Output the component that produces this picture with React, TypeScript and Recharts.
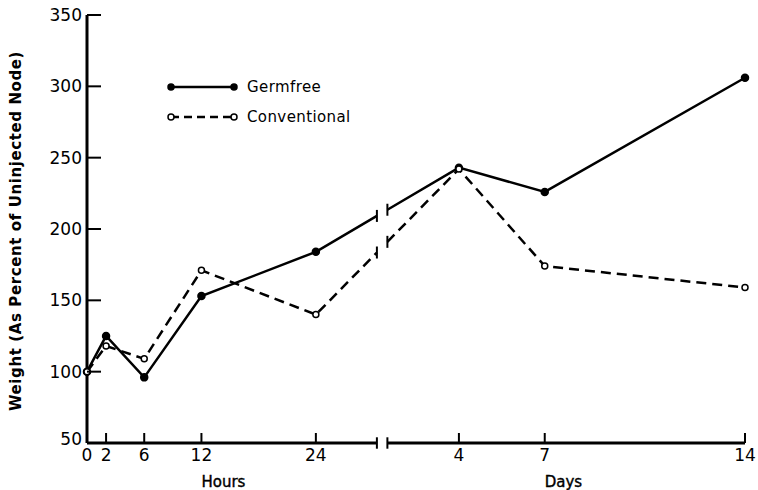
import React from 'react';
import {
    LineChart,
    Line,
    XAxis,
    YAxis,
    Legend,
    ReferenceLine
} from 'recharts';

const hours = [0, 2, 6, 12, 24];
const days = [4, 7, 14];
const germfree = [100, 125, 96, 153, 184, 243, 226, 306];
const conventional = [100, 118, 109, 171, 140, 242, 174, 159];
const yTicks = [50, 100, 150, 200, 250, 300, 350];
const seriesOrder = ['germfree', 'conventional'];
const groupLabels = [
    { label: 'Hours', anchor: 12, unit: 'h' },
    { label: 'Days', anchor: 7, unit: 'd' }
];

// one shared x scale: hours map 1:1, days get their own (compressed) stretch after the break
const dayPos = (d: number) => 27 + 3 * d;
const breakLeft = 30.4;
const breakRight = 31.5;

const FONT = '"DejaVu Sans", sans-serif';

const points = [
    ...hours.map((h) => ({ x: h, label: String(h), unit: 'h' })),
    ...days.map((d) => ({ x: dayPos(d), label: String(d), unit: 'd' }))
];

const lerp = (arr: number[], i: number, x: number) => {
    const x0 = points[i].x;
    const x1 = points[i + 1].x;
    return arr[i] + ((arr[i + 1] - arr[i]) * (x - x0)) / (x1 - x0);
};

const chartData: any[] = [];
points.forEach((p, i) => {
    chartData.push({ x: p.x, germfree: germfree[i], conventional: conventional[i] });
    if (i === hours.length - 1) {
        chartData.push({ x: breakLeft, germfree: lerp(germfree, i, breakLeft), conventional: lerp(conventional, i, breakLeft), brk: true });
        chartData.push({ x: (breakLeft + breakRight) / 2, germfree: null, conventional: null });
        chartData.push({ x: breakRight, germfree: lerp(germfree, i, breakRight), conventional: lerp(conventional, i, breakRight), brk: true });
    }
});

const xTicks = points.map((p) => p.x);

function XTick(props: any) {
    const { x, y, payload } = props;
    const pt = points.find((p) => p.x === payload.value);
    if (!pt) return null;
    const group = groupLabels.find((g) => g.unit === pt.unit && String(g.anchor) === pt.label);
    return (
        <g>
            {payload.value !== 0 && (
                <line x1={x} x2={x} y1={y} y2={y - 10} stroke="#000" strokeWidth={2} />
            )}
            <text x={x} y={y + 18} textAnchor="middle" fontFamily={FONT} fontSize={17} fill="#000">
                {pt.label}
            </text>
            {group && (
                <text x={x} y={y + 44} textAnchor="start" fontFamily={FONT} fontSize={15} fill="#000" stroke="#000" strokeWidth={0.4}>
                    {group.label}
                </text>
            )}
        </g>
    );
}

function YTick(props: any) {
    const { x, y, payload } = props;
    return (
        <g>
            <line x1={x} x2={x + 14} y1={y} y2={y} stroke="#000" strokeWidth={2} />
            <text x={x - 5} y={y} dy={payload.value === 50 ? 2 : 6} textAnchor="end" fontFamily={FONT} fontSize={17} fill="#000">
                {payload.value}
            </text>
        </g>
    );
}

const makeDot = (hollow: boolean) => (props: any) => {
    const { cx, cy, payload, index } = props;
    if (cx == null || cy == null || payload[hollow ? 'conventional' : 'germfree'] == null) {
        return <g key={`dot-${index}`} />;
    }
    if (payload.brk) {
        return <line key={`dot-${index}`} x1={cx} x2={cx} y1={cy - 6} y2={cy + 6} stroke="#000" strokeWidth={2} />;
    }
    return (
        <circle
            key={`dot-${index}`}
            cx={cx}
            cy={cy}
            r={hollow ? 3 : 3.5}
            fill={hollow ? '#fff' : '#000'}
            stroke="#000"
            strokeWidth={1.5}
        />
    );
};

function LegendBox(props: any) {
    const items = [...(props.payload || [])].sort(
        (a: any, b: any) => seriesOrder.indexOf(a.dataKey) - seriesOrder.indexOf(b.dataKey)
    );
    return (
        <svg width={220} height={60}>
            {items.map((item: any, i: number) => {
                const dashed = item.dataKey === 'conventional';
                const yy = 15 + i * 30;
                return (
                    <g key={item.dataKey}>
                        <line x1={11} x2={74} y1={yy} y2={yy} stroke="#000" strokeWidth={2.5} strokeDasharray={dashed ? '8 5' : undefined} />
                        <circle cx={11} cy={yy} r={3} fill={dashed ? '#fff' : '#000'} stroke="#000" strokeWidth={1.5} />
                        <circle cx={74} cy={yy} r={3} fill={dashed ? '#fff' : '#000'} stroke="#000" strokeWidth={1.5} />
                        <text x={87} y={yy + 5} fontFamily={FONT} fontSize={15} letterSpacing={0.4} fill="#000">
                            {item.value}
                        </text>
                    </g>
                );
            })}
        </svg>
    );
}

export default function App() {
    return (
        <div style={{ position: 'absolute', left: 0, top: 0, background: '#fff' }}>
            <LineChart
                width={758}
                height={490}
                data={chartData}
                margin={{ top: 15, right: 13, left: 0, bottom: 0 }}
            >
                <XAxis
                    dataKey="x"
                    type="number"
                    domain={[0, dayPos(days[days.length - 1])]}
                    ticks={xTicks}
                    interval={0}
                    axisLine={false}
                    tickLine={false}
                    tickSize={0}
                    tickMargin={0}
                    height={47}
                    tick={<XTick />}
                />
                <YAxis
                    type="number"
                    domain={[50, 350]}
                    ticks={yTicks}
                    interval={0}
                    width={87}
                    axisLine={{ stroke: '#000', strokeWidth: 3 }}
                    tickLine={false}
                    tickSize={0}
                    tickMargin={0}
                    tick={<YTick />}
                    label={({ viewBox }: any) => {
                        const cx = viewBox.x + 16;
                        const cy = viewBox.y + viewBox.height / 2 + 2;
                        return (
                            <text
                                x={cx}
                                y={cy}
                                transform={`rotate(-90, ${cx}, ${cy})`}
                                textAnchor="middle"
                                dominantBaseline="central"
                                fontFamily={FONT}
                                fontSize={15}
                                letterSpacing={0.6}
                                fontWeight="bold"
                                fill="#000"
                            >
                                Weight (As Percent of Uninjected Node)
                            </text>
                        );
                    }}
                />
                {/* broken x axis line */}
                <ReferenceLine segment={[{ x: 0, y: 50 }, { x: breakLeft, y: 50 }]} stroke="#000" strokeWidth={3} ifOverflow="visible" />
                <ReferenceLine segment={[{ x: breakRight, y: 50 }, { x: dayPos(days[days.length - 1]), y: 50 }]} stroke="#000" strokeWidth={3} ifOverflow="visible" />
                <ReferenceLine segment={[{ x: breakLeft, y: 46 }, { x: breakLeft, y: 54 }]} stroke="#000" strokeWidth={2} ifOverflow="visible" />
                <ReferenceLine segment={[{ x: breakRight, y: 46 }, { x: breakRight, y: 54 }]} stroke="#000" strokeWidth={2} ifOverflow="visible" />
                <Legend
                    layout="vertical"
                    align="center"
                    verticalAlign="middle"
                    wrapperStyle={{ left: 160, top: 72, width: 220 }}
                    content={<LegendBox />}
                />
                <Line
                    type="linear"
                    dataKey="germfree"
                    name="Germfree"
                    stroke="#000"
                    strokeWidth={2.5}
                    dot={makeDot(false)}
                    activeDot={false}
                    connectNulls={false}
                    isAnimationActive={false}
                />
                <Line
                    type="linear"
                    dataKey="conventional"
                    name="Conventional"
                    stroke="#000"
                    strokeWidth={2.5}
                    strokeDasharray="10 6"
                    dot={makeDot(true)}
                    activeDot={false}
                    connectNulls={false}
                    isAnimationActive={false}
                />
            </LineChart>
        </div>
    );
}
